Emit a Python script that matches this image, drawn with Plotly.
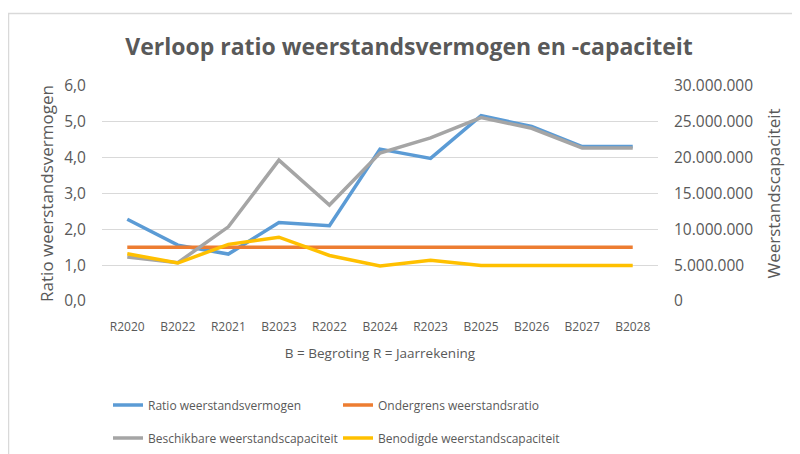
import plotly.graph_objects as go

categories = ["R2020", "B2022", "R2021", "B2023", "R2022", "B2024", "R2023", "B2025", "B2026", "B2027", "B2028"]
ratio = [2.28, 1.56, 1.31, 2.19, 2.10, 4.24, 3.98, 5.17, 4.87, 4.31, 4.31]
ondergrens = [1.5] * 11
beschikbaar = [6150000, 5350000, 10350000, 19650000, 13400000, 20650000, 22750000, 25600000, 24100000, 21350000, 21350000]
benodigd = [6600000, 5300000, 7900000, 8900000, 6350000, 4900000, 5700000, 4950000, 4950000, 4950000, 4950000]

FONT = "Open Sans"
TXT = "#595959"

fig = go.Figure()
fig.add_trace(go.Scatter(x=categories, y=ratio, name="Ratio weerstandsvermogen", mode="lines",
                         line=dict(color="#5B9BD5", width=3.5), legend="legend"))
fig.add_trace(go.Scatter(x=categories, y=ondergrens, name="Ondergrens weerstandsratio", mode="lines",
                         line=dict(color="#ED7D31", width=3.5), legend="legend2"))
fig.add_trace(go.Scatter(x=categories, y=beschikbaar, name="Beschikbare weerstandscapaciteit", mode="lines",
                         line=dict(color="#A5A5A5", width=3.5), yaxis="y2", legend="legend3"))
fig.add_trace(go.Scatter(x=categories, y=benodigd, name="Benodigde weerstandscapaciteit", mode="lines",
                         line=dict(color="#FFC000", width=3.5), yaxis="y2", legend="legend4"))

# page shows the figure offset by the 8px body margin
L, R, T, B = 94, 150, 78, 161
PW, PH = 800 - L - R, 454 - T - B

def px(x):
    return (x - L) / PW

def py(y):
    return (454 - B - y) / PH

def leg(x, y):
    return dict(orientation="h", xref="container", yref="container", x=x / 800, y=1 - y / 454,
                xanchor="left", yanchor="middle", font=dict(size=12, color=TXT),
                bgcolor="rgba(0,0,0,0)", itemclick=False)

fig.update_layout(
    template="none",
    width=800, height=454,
    margin=dict(l=L, r=R, t=T, b=B, autoexpand=False),
    paper_bgcolor="white", plot_bgcolor="white",
    separators=",.",
    font=dict(family=FONT, color=TXT),
    title=dict(text="<b>Verloop ratio weerstandsvermogen en -capaciteit</b>",
               font=dict(family=FONT, size=23, color=TXT),
               x=401 / 800, xref="container", xanchor="center",
               y=1 - 39 / 454, yref="container", yanchor="middle"),
    xaxis=dict(type="category", range=[-0.5, 10.5], showgrid=False, showline=False, zeroline=False,
               automargin=False, ticks="", ticklabelstandoff=17,
               tickfont=dict(size=12, color=TXT),
               title=dict(text="B = Begroting R = Jaarrekening", font=dict(size=13.5, color=TXT), standoff=14)),
    yaxis=dict(range=[0, 6], dtick=1, tickformat=".1f", gridcolor="#D9D9D9", gridwidth=1,
               automargin=False, zeroline=False, showline=False, ticks="", ticklabelstandoff=15,
               tickfont=dict(size=15.5, color=TXT),
               title=dict(text="Ratio weerstandsvermogen", font=dict(size=17, color=TXT), standoff=6)),
    yaxis2=dict(range=[0, 30000000], dtick=5000000, tickformat=",d", overlaying="y", side="right",
                automargin=False, showgrid=False, zeroline=False, showline=False,
                ticks="", ticklabelstandoff=15,
                tickfont=dict(size=15.5, color=TXT),
                title=dict(text="Weerstandscapaciteit", font=dict(size=17, color=TXT), standoff=15)),
    legend=leg(100, 397),
    legend2=leg(330, 397),
    legend3=leg(100, 430),
    legend4=leg(330, 430),
    shapes=[dict(type="rect", xref="paper", yref="paper", x0=px(0.5), x1=px(812), y0=py(5.5), y1=py(470),
                 line=dict(color="#D9D9D9", width=1.5), fillcolor="rgba(0,0,0,0)", layer="below")],
    showlegend=True,
)

fig.write_html("out.html")
